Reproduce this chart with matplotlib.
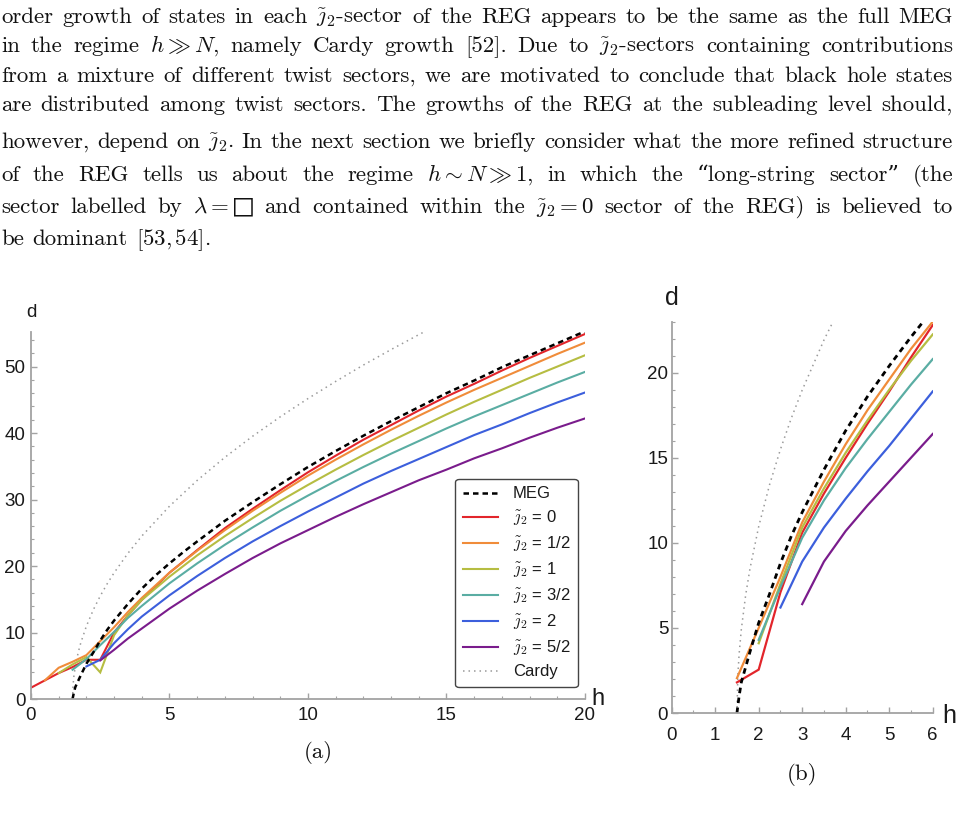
import numpy as np
import matplotlib
matplotlib.use("Agg")
import matplotlib.pyplot as plt
from matplotlib.lines import Line2D
from matplotlib.ticker import MultipleLocator

plt.rcParams['mathtext.fontset'] = 'cm'

# ---------------- data ----------------
meg_h = [1.5, 1.55, 1.6, 1.7, 1.8, 2.0, 2.25, 2.5, 2.75, 3.0, 3.5, 4.0, 4.5, 5.0, 5.5, 6,
         7, 8, 9, 10, 11, 12, 13, 14, 15, 16, 17, 18, 19, 20]
meg_d = [0.0, 1.0, 1.8, 2.7, 3.6, 5.3, 7.0, 8.8, 10.4, 11.8, 14.3, 16.6, 18.6, 20.4, 22.1, 23.7,
         26.8, 29.6, 32.3, 34.9, 37.3, 39.6, 41.8, 43.9, 46.0, 47.9, 49.9, 51.7, 53.5, 55.3]

cardy_h = [1.5, 1.52, 1.55, 1.6, 1.7, 1.8, 2.0, 2.25, 2.5, 2.75, 3.0, 3.5, 4, 5, 6, 7, 8, 9,
           10, 11, 12, 13, 14, 14.5]
cardy_d = [0.0, 2.19, 3.47, 4.90, 6.93, 8.49, 10.96, 13.42, 15.5, 17.33, 18.98, 21.92, 24.51,
           29.0, 32.88, 36.35, 39.52, 42.45, 45.19, 47.77, 50.23, 52.56, 54.80, 55.89]

hi_h = [5, 6, 7, 8, 9, 10, 11, 12, 13, 14, 15, 16, 17, 18, 19, 20]

# panel (a)
a_j0_h = [0, 0.5, 1, 1.5, 2, 2.5, 3, 3.5, 4] + hi_h
a_j0_d = [1.7, 2.8, 3.9, 4.8, 5.9, 5.9, 10.0, 12.6, 14.9,
          19.0, 22.4, 25.7, 28.6, 31.4, 34.1, 36.6, 39.0, 41.2, 43.4, 45.5, 47.4, 49.4, 51.3, 53.1, 54.9]
a_j12_h = [0.5, 1, 1.5, 2, 2.5, 3, 3.5, 4] + hi_h
a_j12_d = [2.8, 4.7, 5.6, 6.6, 8.7, 10.8, 13.1, 15.2,
           19.0, 22.3, 25.4, 28.3, 31.0, 33.6, 36.0, 38.3, 40.5, 42.6, 44.6, 46.5, 48.3, 50.1, 51.9, 53.6]
a_j1_h = [1, 1.5, 2, 2.5, 3, 3.5, 4] + hi_h
a_j1_d = [3.9, 5.2, 6.3, 4.0, 9.6, 12.6, 14.9,
          18.4, 21.6, 24.5, 27.2, 29.8, 32.2, 34.5, 36.7, 38.8, 40.8, 42.8, 44.7, 46.5, 48.3, 50.0, 51.7]
a_j32_h = [1.5, 2, 2.5, 3, 3.5, 4] + hi_h
a_j32_d = [4.4, 6.0, 8.1, 10.1, 12.2, 14.0,
           17.4, 20.4, 23.2, 25.8, 28.3, 30.6, 32.8, 34.9, 36.9, 38.8, 40.7, 42.5, 44.2, 45.9, 47.6, 49.2]
a_j2_h = [2, 2.5, 3, 3.5, 4] + hi_h
a_j2_d = [4.9, 5.9, 8.4, 10.5, 12.4,
          15.6, 18.5, 21.2, 23.7, 26.0, 28.2, 30.3, 32.4, 34.3, 36.1, 37.9, 39.7, 41.3, 43.0, 44.6, 46.1]
a_j52_h = [2.5, 3, 3.5, 4] + hi_h
a_j52_d = [5.8, 7.4, 9.1, 10.6,
           13.6, 16.3, 18.8, 21.2, 23.4, 25.4, 27.4, 29.3, 31.1, 32.9, 34.5, 36.2, 37.7, 39.3, 40.8, 42.2]

# panel (b)
b_j0_h = [1.5, 2, 2.5, 3, 3.5, 4, 4.5, 5, 5.5, 6]
b_j0_d = [1.8, 2.55, 7.1, 10.6, 12.9, 15.0, 17.0, 18.9, 20.9, 22.8]
b_j12_h = [1.5, 2, 2.5, 3, 3.5, 4, 4.5, 5, 5.5, 6]
b_j12_d = [2.05, 5.0, 8.0, 11.2, 13.6, 15.8, 17.8, 19.6, 21.4, 23.0]
b_j1_h = [2, 2.5, 3, 3.5, 4, 4.5, 5, 5.5, 6]
b_j1_d = [4.1, 7.6, 10.9, 13.2, 15.3, 17.2, 19.0, 20.7, 22.25]
b_j32_h = [2, 2.5, 3, 3.5, 4, 4.5, 5, 5.5, 6]
b_j32_d = [4.3, 7.4, 10.3, 12.5, 14.4, 16.1, 17.7, 19.3, 20.8]
b_j2_h = [2.5, 3, 3.5, 4, 4.5, 5, 5.5, 6]
b_j2_d = [6.2, 8.9, 10.9, 12.6, 14.2, 15.7, 17.3, 18.9]
b_j52_h = [3, 3.5, 4, 4.5, 5, 5.5, 6]
b_j52_d = [6.4, 8.9, 10.7, 12.2, 13.6, 15.0, 16.4]

sector_labels = [r"$\tilde{\jmath}_2$ = 0", r"$\tilde{\jmath}_2$ = 1/2", r"$\tilde{\jmath}_2$ = 1",
                 r"$\tilde{\jmath}_2$ = 3/2", r"$\tilde{\jmath}_2$ = 2", r"$\tilde{\jmath}_2$ = 5/2"]
sector_colors = ['#e2252b', '#f08c3a', '#b6bd42', '#5aada3', '#3c5fdc', '#7a1c8c']

body_lines = [
    r"order growth of states in each $\tilde{\jmath}_2$-sector of the REG appears to be the same as the full MEG",
    r"in the regime $h\gg{N}$, namely Cardy growth [52]. Due to $\tilde{\jmath}_2$-sectors containing contributions",
    r"from a mixture of different twist sectors, we are motivated to conclude that black hole states",
    r"are distributed among twist sectors. The growths of the REG at the subleading level should,",
    r"however, depend on $\tilde{\jmath}_2$. In the next section we briefly consider what the more refined structure",
    r"of the REG tells us about the regime $h\sim{N}\gg1$, in which the “long-string sector” (the",
    r"sector labelled by $\lambda=□$ and contained within the $\tilde{\jmath}_2=0$ sector of the REG) is believed to",
    r"be dominant [53,$\,$54].",
]
body_yc = [18, 47, 77, 106, 143, 176, 208, 240]

# ---------------- figure ----------------
W, H = 961, 813
fig = plt.figure(figsize=(W / 100, H / 100), dpi=100)

SERIF = ['cmr10', 'DejaVu Serif']
SANS = ['Liberation Sans', 'DejaVu Sans']
BODY_FS = 16.5

renderer = fig.canvas.get_renderer()


def place_line(s, yc, justify, x0=1.0, x1=953.0):
    words = s.split(' ')
    ts = [fig.text(0, 0, w, fontsize=BODY_FS, family=SERIF, va='baseline', ha='left', color='#111')
          for w in words]
    ws = [t.get_window_extent(renderer).width for t in ts]
    if justify and len(words) > 1:
        gap = (x1 - x0 - sum(ws)) / (len(words) - 1)
    else:
        gap = 0.36 * BODY_FS * 100 / 72
    x = x0
    yb = yc + 5
    for t, w in zip(ts, ws):
        t.set_position((x / W, 1 - yb / H))
        x += w + gap


for i, (s, yc) in enumerate(zip(body_lines, body_yc)):
    place_line(s, yc, justify=(i != len(body_lines) - 1))

AXC = '#a3a3a3'
TXT = '#1a1a1a'


def style_axes(ax, xmaj, xmin, ymaj, ymin, label_fs, xpad, ypad):
    for sp in ('top', 'right'):
        ax.spines[sp].set_visible(False)
    for sp in ('left', 'bottom'):
        ax.spines[sp].set_color(AXC)
        ax.spines[sp].set_linewidth(1.3)
    ax.xaxis.set_major_locator(MultipleLocator(xmaj))
    ax.xaxis.set_minor_locator(MultipleLocator(xmin))
    ax.yaxis.set_major_locator(MultipleLocator(ymaj))
    ax.yaxis.set_minor_locator(MultipleLocator(ymin))
    ax.tick_params(which='major', direction='in', length=4.5, width=1.0, color=AXC,
                   labelcolor=TXT, labelsize=label_fs)
    ax.tick_params(axis='x', which='major', pad=xpad)
    ax.tick_params(axis='y', which='major', pad=ypad)
    ax.tick_params(which='minor', direction='in', length=2.5, width=0.8, color=AXC)
    for lab in ax.get_xticklabels() + ax.get_yticklabels():
        lab.set_family(SANS)
    ax.set_facecolor('none')


# panel (a)
axa = fig.add_axes([31 / W, 1 - 699 / H, (585 - 31) / W, (699 - 332) / H])
axa.set_xlim(0, 20)
axa.set_ylim(0, 55.2)
a_series = [(a_j0_h, a_j0_d), (a_j12_h, a_j12_d), (a_j1_h, a_j1_d),
            (a_j32_h, a_j32_d), (a_j2_h, a_j2_d), (a_j52_h, a_j52_d)]
axa.plot(cardy_h, cardy_d, color='#9a9a9a', lw=1.1, linestyle=(0, (1, 2.6)))
for (hh, dd), c in zip(a_series, sector_colors):
    axa.plot(hh, dd, color=c, lw=1.5, solid_joinstyle='miter')
axa.plot(meg_h, meg_d, color='black', lw=1.8, linestyle=(0, (2.2, 1.6)))
style_axes(axa, 5, 1, 10, 2, 13.5, 5.5, 4)
axa.annotate('d', xy=(0, 1), xycoords='axes fraction', xytext=(0, 14), textcoords='offset points',
             ha='center', va='center', fontsize=13.5, family=SANS, color=TXT)
axa.annotate('h', xy=(1, 0), xycoords='axes fraction', xytext=(9, 0), textcoords='offset points',
             ha='center', va='center', fontsize=17, family=SANS, color=TXT)

handles = [Line2D([], [], color='black', lw=1.8, linestyle=(0, (2.2, 1.6)))]
handles += [Line2D([], [], color=c, lw=1.5) for c in sector_colors]
handles += [Line2D([], [], color='#9a9a9a', lw=1.1, linestyle=(0, (1, 2.6)))]
labels = ['MEG'] + sector_labels + ['Cardy']
leg = axa.legend(handles, labels, loc='lower right', bbox_to_anchor=(0.987, 0.033),
                 borderaxespad=0.0,
                 prop={'family': SANS, 'size': 12}, handlelength=2.1, handletextpad=0.9,
                 labelspacing=0.42, borderpad=0.45, fancybox=True, framealpha=1,
                 edgecolor='#444444')
leg.get_frame().set_linewidth(1.0)
for t in leg.get_texts():
    t.set_color(TXT)

# panel (b)
axb = fig.add_axes([671.7 / W, 1 - 713 / H, (932.7 - 671.7) / W, (713 - 321.7) / H])
axb.set_xlim(0, 6)
axb.set_ylim(0, 23)
b_series = [(b_j0_h, b_j0_d), (b_j12_h, b_j12_d), (b_j1_h, b_j1_d),
            (b_j32_h, b_j32_d), (b_j2_h, b_j2_d), (b_j52_h, b_j52_d)]
axb.plot(cardy_h, cardy_d, color='#9a9a9a', lw=1.1, linestyle=(0, (1, 2.6)))
for (hh, dd), c in zip(b_series, sector_colors):
    axb.plot(hh, dd, color=c, lw=1.6, solid_joinstyle='miter')
axb.plot(meg_h, meg_d, color='black', lw=2.0, linestyle=(0, (2.0, 1.6)))
style_axes(axb, 1, 0.5, 5, 1, 13.5, 10, 2.5)
axb.annotate('d', xy=(0, 1), xycoords='axes fraction', xytext=(0, 17), textcoords='offset points',
             ha='center', va='center', fontsize=18, family=SANS, color=TXT)
axb.annotate('h', xy=(1, 0), xycoords='axes fraction', xytext=(12, -2), textcoords='offset points',
             ha='center', va='center', fontsize=18, family=SANS, color=TXT)

# captions
fig.text(318 / W, 1 - 752 / H, '(a)', fontsize=BODY_FS, family=SERIF, ha='center', va='center', color='#111')
fig.text(802 / W, 1 - 774 / H, '(b)', fontsize=BODY_FS, family=SERIF, ha='center', va='center', color='#111')

fig.savefig('out.png', dpi=100)
